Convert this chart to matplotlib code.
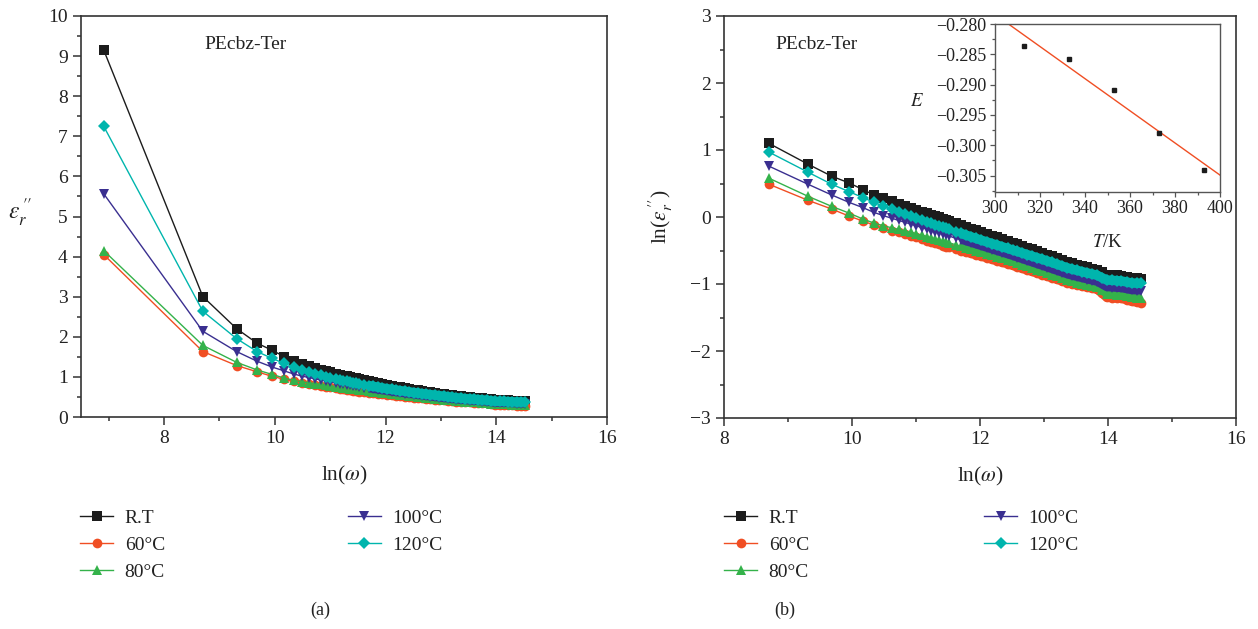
import numpy as np
import matplotlib
matplotlib.use("Agg")
import matplotlib.pyplot as plt
from matplotlib.ticker import MultipleLocator, FuncFormatter

plt.rcParams['font.family'] = ['Liberation Serif', 'DejaVu Serif']
plt.rcParams['mathtext.fontset'] = 'stix'
plt.rcParams['axes.unicode_minus'] = True

# ---------------- data ----------------
series_labels = ["R.T", "60°C", "80°C", "100°C", "120°C"]

x_ln_omega = [6.91, 8.70, 9.31, 9.68, 9.95, 10.17, 10.34, 10.49, 10.62, 10.73,
              10.83, 10.92, 11.00, 11.10, 11.17, 11.24, 11.30, 11.36, 11.42, 11.47,
              11.52, 11.62, 11.70, 11.78, 11.86, 11.93, 12.02, 12.11, 12.19, 12.26,
              12.35, 12.43, 12.51, 12.58, 12.66, 12.74, 12.81, 12.89, 12.97, 13.05,
              13.12, 13.20, 13.28, 13.36, 13.44, 13.52, 13.59, 13.67, 13.75, 13.83,
              13.90, 13.98, 14.06, 14.14, 14.21, 14.29, 14.37, 14.45, 14.51]

ln_eps_rt = [2.214, 1.10, 0.79, 0.61, 0.51, 0.41, 0.33, 0.280, 0.237, 0.200,
             0.167, 0.137, 0.110, 0.078, 0.056, 0.033, 0.014, -0.005, -0.024, -0.040,
             -0.057, -0.091, -0.118, -0.145, -0.172, -0.196, -0.226, -0.255, -0.281, -0.303,
             -0.332, -0.358, -0.383, -0.407, -0.434, -0.462, -0.485, -0.513, -0.540, -0.566,
             -0.589, -0.615, -0.641, -0.667, -0.690, -0.711, -0.729, -0.749, -0.770, -0.790,
             -0.823, -0.860, -0.865, -0.870, -0.875, -0.893, -0.910, -0.916, -0.920]

ln_eps_60 = [1.399, 0.49, 0.25, 0.12, 0.015, -0.06, -0.12, -0.170, -0.203, -0.231,
             -0.257, -0.280, -0.300, -0.330, -0.351, -0.372, -0.390, -0.408, -0.426, -0.441,
             -0.455, -0.481, -0.502, -0.523, -0.544, -0.562, -0.586, -0.611, -0.633, -0.653,
             -0.678, -0.700, -0.723, -0.744, -0.768, -0.792, -0.813, -0.837, -0.861, -0.885,
             -0.906, -0.930, -0.954, -0.978, -0.998, -1.015, -1.030, -1.047, -1.063, -1.080,
             -1.136, -1.200, -1.205, -1.210, -1.215, -1.238, -1.260, -1.271, -1.280]

ln_eps_80 = [1.423, 0.58, 0.31, 0.16, 0.06, -0.03, -0.09, -0.130, -0.161, -0.186,
             -0.210, -0.231, -0.250, -0.276, -0.294, -0.312, -0.328, -0.344, -0.359, -0.372,
             -0.386, -0.414, -0.436, -0.458, -0.481, -0.500, -0.526, -0.551, -0.573, -0.593,
             -0.618, -0.640, -0.663, -0.686, -0.711, -0.737, -0.759, -0.785, -0.810, -0.836,
             -0.859, -0.885, -0.911, -0.937, -0.959, -0.978, -0.994, -1.013, -1.031, -1.050,
             -1.097, -1.150, -1.155, -1.160, -1.165, -1.183, -1.200, -1.206, -1.210]

ln_eps_100 = [1.717, 0.76, 0.49, 0.33, 0.22, 0.14, 0.07, 0.020, -0.018, -0.051,
              -0.080, -0.106, -0.130, -0.160, -0.181, -0.202, -0.220, -0.238, -0.256, -0.271,
              -0.286, -0.316, -0.340, -0.364, -0.388, -0.409, -0.436, -0.463, -0.487, -0.508,
              -0.535, -0.559, -0.583, -0.606, -0.631, -0.657, -0.679, -0.705, -0.730, -0.756,
              -0.779, -0.805, -0.831, -0.857, -0.879, -0.898, -0.914, -0.933, -0.951, -0.970,
              -1.007, -1.050, -1.055, -1.060, -1.065, -1.080, -1.095, -1.098, -1.100]

ln_eps_120 = [1.981, 0.97, 0.67, 0.49, 0.38, 0.29, 0.22, 0.160, 0.114, 0.075,
              0.040, 0.008, -0.020, -0.052, -0.074, -0.097, -0.116, -0.135, -0.154, -0.170,
              -0.186, -0.218, -0.244, -0.270, -0.295, -0.318, -0.346, -0.373, -0.397, -0.418,
              -0.445, -0.469, -0.493, -0.514, -0.538, -0.562, -0.583, -0.607, -0.631, -0.656,
              -0.679, -0.705, -0.731, -0.757, -0.779, -0.798, -0.814, -0.833, -0.851, -0.870,
              -0.903, -0.940, -0.945, -0.950, -0.955, -0.970, -0.985, -0.988, -0.990]

inset_T_K = [313, 333, 353, 373, 393]
inset_E = [-0.2837, -0.2857, -0.2909, -0.2979, -0.3041]

# ---------------- styles ----------------
colors = ["#1c1c1c", "#f04e23", "#34b24a", "#3a2f90", "#00b5ad"]
markers = ["s", "o", "^", "v", "D"]
msizes = [7.0, 7.0, 7.6, 7.6, 6.2]
band_lw = [6.4, 6.4, 5.6, 5.6, 6.8]
all_series = [ln_eps_rt, ln_eps_60, ln_eps_80, ln_eps_100, ln_eps_120]
dense_from = 22   # index from which the measured points merge into a solid band

txt_col = "#222222"
spine_col = "#333333"

W, H = 1258, 629
fig = plt.figure(figsize=(W / 100, H / 100), dpi=100)

ax_a = fig.add_axes([81 / W, 1 - 417 / H, (607 - 81) / W, (417 - 16) / H])
ax_b = fig.add_axes([724 / W, 1 - 418 / H, (1236 - 724) / W, (418 - 16) / H])

x = np.array(x_ln_omega)
handles = []
for vals, c, m, ms, blw, lab in zip(all_series, colors, markers, msizes, band_lw,
                                    series_labels):
    v = np.array(vals)
    ya = np.exp(v)
    # dense region: points overlap into a solid band
    ax_a.plot(x[dense_from:], ya[dense_from:], color=c, lw=blw,
              solid_capstyle='butt', solid_joinstyle='round')
    ax_b.plot(x[dense_from:], v[dense_from:], color=c, lw=blw,
              solid_capstyle='butt', solid_joinstyle='round')
    h, = ax_a.plot(x, ya, color=c, marker=m, markersize=ms, lw=1.0,
                   markeredgewidth=0, label=lab)
    ax_b.plot(x[1:], v[1:], color=c, marker=m, markersize=ms, lw=1.0,
              markeredgewidth=0, label=lab)
    handles.append(h)


def style_axes(ax, fs=14):
    for s in ax.spines.values():
        s.set_linewidth(1.2)
        s.set_color(spine_col)
    ax.tick_params(which='both', direction='out', top=False, right=False,
                   colors=spine_col, labelcolor=txt_col, labelsize=fs, width=1.1)
    ax.tick_params(which='major', length=6)
    ax.tick_params(which='minor', length=3)


# panel (a)
ax_a.set_xlim(6.5, 16)
ax_a.set_ylim(0, 10)
ax_a.xaxis.set_major_locator(MultipleLocator(2))
ax_a.xaxis.set_minor_locator(MultipleLocator(1))
ax_a.yaxis.set_major_locator(MultipleLocator(1))
ax_a.yaxis.set_minor_locator(MultipleLocator(0.5))
style_axes(ax_a)
ax_a.set_xlabel(r"ln($\omega$)", fontsize=15.5, color=txt_col)
ax_a.xaxis.set_label_coords(0.5, -0.118)
ax_a.set_ylabel(r"$\varepsilon_r^{\,\prime\prime}$", fontsize=17, color=txt_col,
                rotation=0)
ax_a.yaxis.set_label_coords(-0.115, 0.47)
ax_a.text(0.312, 0.928, "PEcbz-Ter", transform=ax_a.transAxes, fontsize=14,
          color=txt_col, ha='center', va='center')

# panel (b)
ax_b.set_xlim(8, 16)
ax_b.set_ylim(-3, 3)
ax_b.xaxis.set_major_locator(MultipleLocator(2))
ax_b.xaxis.set_minor_locator(MultipleLocator(1))
ax_b.yaxis.set_major_locator(MultipleLocator(1))
ax_b.yaxis.set_minor_locator(MultipleLocator(0.5))
style_axes(ax_b)
ax_b.set_xlabel(r"ln($\omega$)", fontsize=15.5, color=txt_col)
ax_b.xaxis.set_label_coords(0.5, -0.118)
ax_b.set_ylabel(r"ln($\varepsilon_r^{\,\prime\prime}$)", fontsize=15.5,
                color=txt_col)
ax_b.yaxis.set_label_coords(-0.095, 0.5)
ax_b.text(0.18, 0.928, "PEcbz-Ter", transform=ax_b.transAxes, fontsize=14,
          color=txt_col, ha='center', va='center')

# inset
ax_in = fig.add_axes([995 / W, 1 - 192 / H, (1220 - 995) / W, (192 - 24) / H])
tk = np.array(inset_T_K, dtype=float)
ev = np.array(inset_E)
coef = np.polyfit(tk, ev, 1)
xl = np.array([300.0, 400.0])
ax_in.plot(xl, np.polyval(coef, xl), color="#f04e23", lw=1.0)
ax_in.plot(tk, ev, ls='none', marker='s', markersize=3.2, color="#1c1c1c")
ax_in.set_xlim(300, 400)
ax_in.set_ylim(-0.3077, -0.280)
ax_in.xaxis.set_major_locator(MultipleLocator(20))
ax_in.xaxis.set_minor_locator(MultipleLocator(10))
ax_in.yaxis.set_major_locator(MultipleLocator(0.005))
ax_in.yaxis.set_minor_locator(MultipleLocator(0.0025))
ax_in.yaxis.set_major_formatter(
    FuncFormatter(lambda v, p: ("%.3f" % v).replace("-", "\u2212")))
for s in ax_in.spines.values():
    s.set_linewidth(1.0)
    s.set_color("#555555")
ax_in.tick_params(which='both', direction='out', top=False, right=False,
                  colors="#555555", labelcolor=txt_col, labelsize=13, width=0.9)
ax_in.tick_params(which='major', length=3.5, pad=2.5)
ax_in.tick_params(which='minor', length=2)
ax_in.set_xlabel(r"$T$/K", fontsize=13.5, color=txt_col)
ax_in.xaxis.set_label_coords(0.5, -0.25)
ax_in.set_ylabel(r"$E$", fontsize=13.5, color=txt_col, rotation=0)
ax_in.yaxis.set_label_coords(-0.345, 0.49)

# legends
leg_kw = dict(ncol=2, frameon=False, fontsize=14, handlelength=1.7,
              handletextpad=0.6, labelspacing=0.5, borderpad=0,
              borderaxespad=0, loc='upper left', labelcolor=txt_col)
fig.legend(handles=handles, bbox_to_anchor=(80 / W, 1 - 509 / H),
           columnspacing=9.4, **leg_kw)
fig.legend(handles=handles, bbox_to_anchor=(724 / W, 1 - 509 / H),
           columnspacing=9.0, **leg_kw)

fig.text(320 / W, 1 - 610 / H, "(a)", fontsize=13, color=txt_col,
         ha='center', va='center')
fig.text(785 / W, 1 - 610 / H, "(b)", fontsize=13, color=txt_col,
         ha='center', va='center')

fig.savefig("out.png", dpi=100)
